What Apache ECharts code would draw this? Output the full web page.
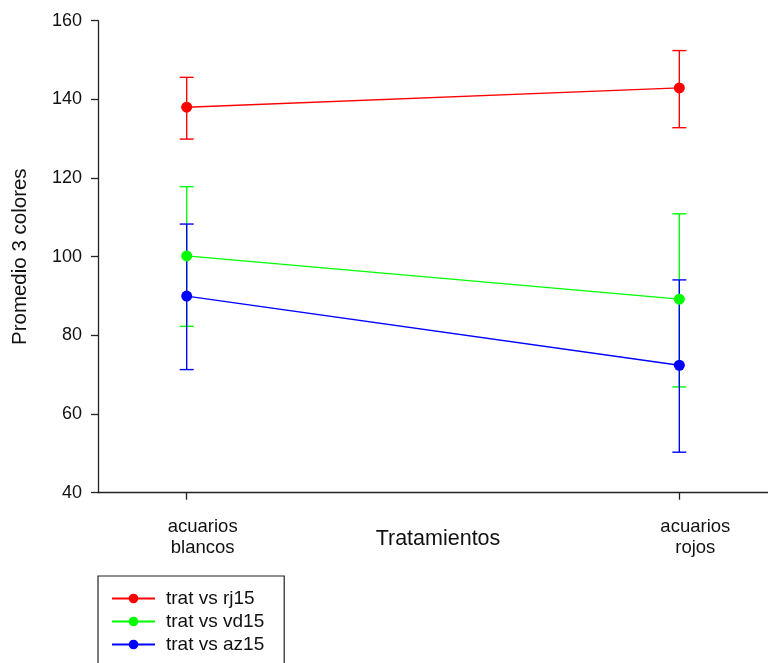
<!DOCTYPE html>
<html>
<head>
<meta charset="utf-8">
<script src="https://cdn.jsdelivr.net/npm/echarts@6/dist/echarts.min.js"></script>
<style>
html,body{margin:0;padding:0;background:#fff;}
#chart{width:768px;height:663px;}
</style>
</head>
<body>
<div id="chart"></div>
<script>
// ---- data ----
const categories = ['acuarios\nblancos', 'acuarios\nrojos'];
const seriesNames = ['trat vs rj15', 'trat vs vd15', 'trat vs az15'];
const rj15 = [138.0, 142.9];
const rj15Low = [129.9, 132.8];
const rj15High = [145.6, 152.4];
const vd15 = [100.2, 89.2];
const vd15Low = [82.3, 66.9];
const vd15High = [117.8, 110.9];
const az15 = [90.0, 72.4];
const az15Low = [71.3, 50.3];
const az15High = [108.3, 94.1];
const yTicks = [40, 60, 80, 100, 120, 140, 160];

const colors = ['#ff0000', '#00ff00', '#0000ff'];
const FONT = 'Liberation Sans, Arial, sans-serif';

const means = [rj15, vd15, az15];
const lows = [rj15Low, vd15Low, az15Low];
const highs = [rj15High, vd15High, az15High];

const chart = echarts.init(document.getElementById('chart'), null, {renderer: 'canvas'});

const series = [];
means.forEach((m, si) => {
  series.push({
    name: 'err' + si,
    type: 'custom',
    z: 2,
    silent: true,
    data: m.map((v, i) => [i, lows[si][i], highs[si][i]]),
    renderItem: function (params, api) {
      const x = api.value(0);
      const lo = api.coord([x, api.value(1)]);
      const hi = api.coord([x, api.value(2)]);
      const hw = 7;
      const style = {stroke: colors[si], lineWidth: 1.4};
      return {
        type: 'group',
        children: [
          {type: 'line', shape: {x1: lo[0], y1: lo[1], x2: hi[0], y2: hi[1]}, style: style},
          {type: 'line', shape: {x1: lo[0] - hw, y1: lo[1], x2: lo[0] + hw, y2: lo[1]}, style: style},
          {type: 'line', shape: {x1: hi[0] - hw, y1: hi[1], x2: hi[0] + hw, y2: hi[1]}, style: style}
        ]
      };
    }
  });
});
means.forEach((m, si) => {
  series.push({
    name: seriesNames[si],
    type: 'line',
    z: 3,
    data: m.map((v, i) => [i, v]),
    symbol: 'circle',
    symbolSize: 11,
    showSymbol: true,
    animation: false,
    lineStyle: {color: colors[si], width: 1.3},
    itemStyle: {color: colors[si]}
  });
});

const option = {
  animation: false,
  backgroundColor: '#ffffff',
  textStyle: {fontFamily: FONT},
  grid: {left: 98, right: 0, top: 20.7, bottom: 170.3, containLabel: false, outerBoundsMode: 'none'},
  xAxis: {
    type: 'value',
    min: -0.18,
    max: 1.18,
    splitLine: {show: false},
    axisLine: {show: true, onZero: false, lineStyle: {color: '#222', width: 1.3}},
    axisTick: {show: true, customValues: [0, 1], length: 7, lineStyle: {color: '#222', width: 1.3}},
    axisLabel: {
      show: true,
      customValues: [0, 1],
      formatter: function (v) { return categories[Math.round(v)]; },
      color: '#111',
      fontFamily: FONT,
      fontSize: 18.5,
      lineHeight: 21,
      margin: 24,
      align: 'center',
      padding: [0, 0, 0, 32]
    },
    name: 'Tratamientos',
    nameLocation: 'middle',
    nameGap: 35,
    nameMoveOverlap: false,
    nameTextStyle: {fontFamily: FONT, fontSize: 21.5, color: '#111', padding: [0, 0, 0, 10]}
  },
  yAxis: {
    type: 'value',
    min: yTicks[0],
    max: yTicks[yTicks.length - 1],
    interval: 20,
    splitLine: {show: false},
    axisLine: {show: true, onZero: false, lineStyle: {color: '#222', width: 1.3}},
    axisTick: {show: true, length: 7, lineStyle: {color: '#222', width: 1.3}},
    axisLabel: {color: '#111', fontFamily: FONT, fontSize: 18, margin: 16},
    name: 'Promedio 3 colores',
    nameLocation: 'middle',
    nameGap: 67,
    nameMoveOverlap: false,
    nameTextStyle: {fontFamily: FONT, fontSize: 20.5, color: '#111'}
  },
  legend: {
    data: seriesNames,
    orient: 'vertical',
    left: 98,
    top: 576,
    width: 186,
    height: 120,
    itemWidth: 43,
    itemHeight: 12,
    itemGap: 4,
    padding: [13, 20, 20, 13],
    borderColor: '#222',
    borderWidth: 1.2,
    backgroundColor: '#fff',
    textStyle: {fontFamily: FONT, fontSize: 19, color: '#111', padding: [0, 0, 0, 6]}
  },
  series: series
};
chart.setOption(option);
</script>
</body>
</html>
